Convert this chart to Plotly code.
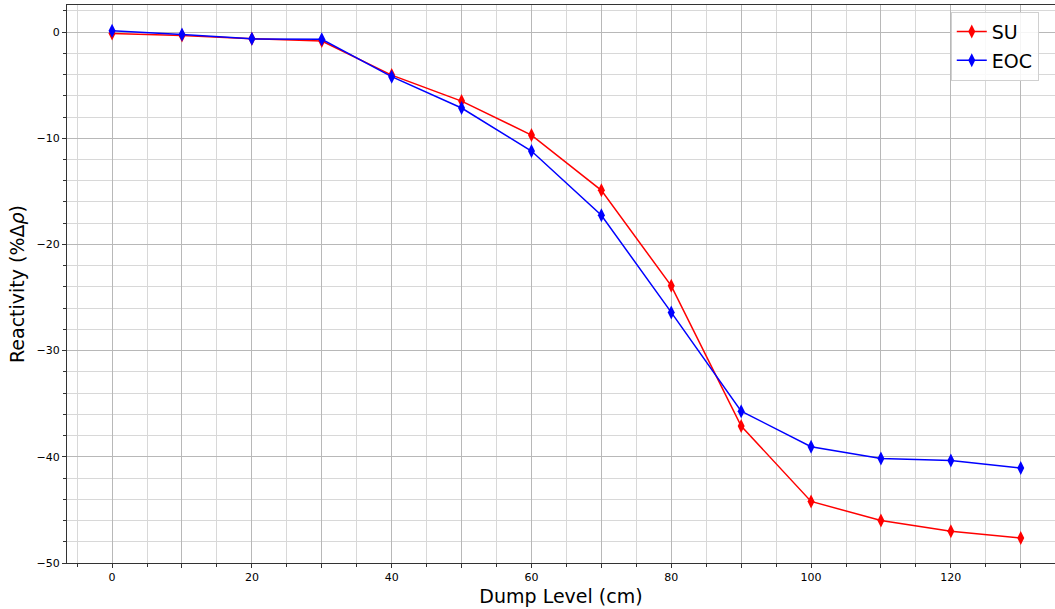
import plotly.graph_objects as go

dump_level = [0, 10, 20, 30, 40, 50, 60, 70, 80, 90, 100, 110, 120, 130]
su = [-0.14, -0.33, -0.63, -0.85, -4.05, -6.5, -9.7, -14.9, -23.9, -37.1, -44.2, -46.0, -47.0, -47.65]
eoc = [0.12, -0.22, -0.64, -0.68, -4.2, -7.15, -11.2, -17.25, -26.4, -35.7, -39.05, -40.15, -40.35, -41.05]

x_tickvals = list(range(0, 140, 10))
x_ticktext = [str(v) if v % 20 == 0 else "" for v in x_tickvals]
y_tickvals = [0, -10, -20, -30, -40, -50]
y_ticktext = ["0", "\u221210", "\u221220", "\u221230", "\u221240", "\u221250"]

fig = go.Figure()
fig.add_trace(go.Scatter(x=dump_level, y=su, mode="lines+markers", name="SU", legendgroup="a",
                         line=dict(color="red", width=1.5),
                         marker=dict(symbol="diamond-tall", size=10, color="red")))
fig.add_trace(go.Scatter(x=dump_level, y=eoc, mode="lines+markers", name="EOC", legendgroup="b",
                         line=dict(color="blue", width=1.5),
                         marker=dict(symbol="diamond-tall", size=10, color="blue")))

axis_common = dict(showline=True, linecolor="#333333", linewidth=1.2, mirror=True,
                   ticks="outside", ticklen=4, tickcolor="#333333",
                   showgrid=True, gridcolor="#b8b8b8", gridwidth=1, zeroline=False,
                   tickfont=dict(family="DejaVu Sans", size=11, color="black"))

fig.update_layout(
    width=1055, height=609,
    margin=dict(l=67, r=0, t=5, b=46),
    paper_bgcolor="white", plot_bgcolor="white",
    font=dict(family="DejaVu Sans", color="black"),
    xaxis=dict(range=[-6.45, 134.9], tickvals=x_tickvals, ticktext=x_ticktext,
               title=dict(text="Dump Level (cm)", font=dict(size=19), standoff=6),
               minor=dict(dtick=5, tick0=0, ticks="outside", ticklen=2.5, tickcolor="#333333",
                          showgrid=True, gridcolor="#d8d8d8", gridwidth=1),
               **axis_common),
    yaxis=dict(range=[-50, 2.55], tickvals=y_tickvals, ticktext=y_ticktext,
               title=dict(text="Reactivity (%\u0394<i>\u03c1</i>)", font=dict(size=19), standoff=6),
               minor=dict(dtick=2, tick0=0, ticks="outside", ticklen=2.5, tickcolor="#333333",
                          showgrid=True, gridcolor="#d8d8d8", gridwidth=1),
               **axis_common),
    legend=dict(x=0.8945, y=0.988, xanchor="left", yanchor="top",
                bgcolor="rgba(255,255,255,0.85)", bordercolor="#d0d0d0", borderwidth=1,
                font=dict(size=19, family="DejaVu Sans"), tracegroupgap=1,
                traceorder="grouped"),
    showlegend=True,
)

fig.write_html("out.html", config={"displayModeBar": False},
               post_script="document.body.style.margin='0';document.body.style.padding='0';")
